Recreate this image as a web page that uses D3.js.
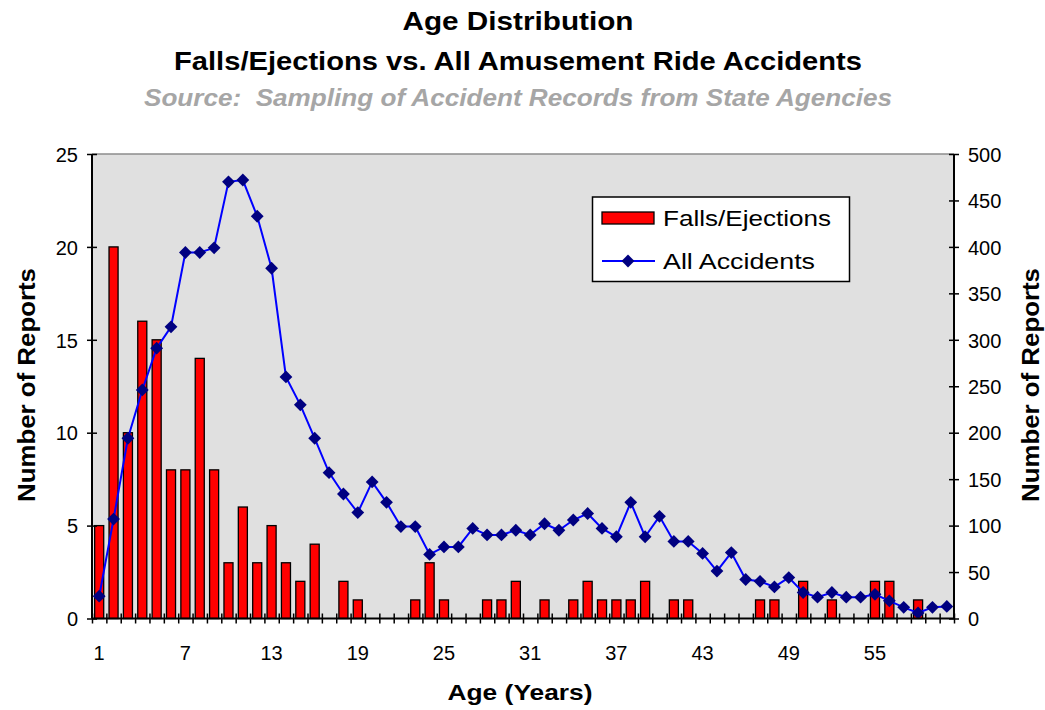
<!DOCTYPE html>
<html>
<head>
<meta charset="utf-8">
<title>Age Distribution</title>
<script src="https://d3js.org/d3.v7.min.js"></script>
<style>
  body { margin: 0; background: #fff; }
  svg text { font-family: "Liberation Sans", Arial, sans-serif; fill: #000; white-space: pre; }
</style>
</head>
<body>
<svg id="chart" width="1045" height="710"></svg>
<script>
// ages 1..60
const ages = d3.range(1, 61);
const falls = [5,20,10,16,15,8,8,14,8,3, 6,3,5,3,2,4,0,2,1,0,
               0,0,1,3,1,0,0,1,1,2, 0,1,0,1,2,1,1,1,2,0,
               1,1,0,0,0,0,1,1,0,2, 0,1,0,0,2,2,0,1,0,0];
const allAcc = [24,107,194,246,291,314,394,394,399,470, 472,433,377,260,230,194,157,134,114,147,
                125,99,99,69,77,77,97,90,90,95, 90,102,95,106,113,97,88,125,88,110,
                83,83,70,51,71,42,40,34,44,28, 23,28,23,23,26,19,12,6,12,13];
const ageLabels = [1,7,13,19,25,31,37,43,49,55];
const leftTicks = [0,5,10,15,20,25];
const rightTicks = d3.range(0, 501, 50);

const svg = d3.select("#chart");
const L = 92, R = 954, T = 154, B = 618.5;

const x = d3.scaleBand(ages, [L, R]).paddingInner(0.37).paddingOuter(0.185);
const xEdge = d3.scaleLinear([0, ages.length], [L, R]);
const yL = d3.scaleLinear([0, 25], [B, T]);
const yR = d3.scaleLinear([0, 500], [B, T]);

// titles
function txt(s, px, py, size, opts = {}) {
  const t = svg.append("text").attr("x", px).attr("y", py)
    .attr("font-size", size).attr("text-anchor", opts.anchor || "middle")
    .attr("font-weight", opts.bold ? "bold" : "normal")
    .attr("font-style", opts.italic ? "italic" : "normal")
    .style("fill", opts.color || "#000")
    .text(s);
  if (opts.len) t.attr("textLength", opts.len).attr("lengthAdjust", "spacingAndGlyphs");
  if (opts.rot) t.attr("transform", `rotate(${opts.rot},${px},${py})`);
  return t;
}
txt("Age Distribution", 518, 30, 26, {bold: true, len: 231});
txt("Falls/Ejections vs. All Amusement Ride Accidents", 518, 70, 26, {bold: true, len: 688});
txt("Source:  Sampling of Accident Records from State Agencies", 518, 106, 24, {bold: true, italic: true, color: "#a6a6a6", len: 748});

// plot area
svg.append("rect").attr("x", L).attr("y", T).attr("width", R - L).attr("height", B - T)
  .attr("fill", "#e0e0e0");
svg.append("line").attr("x1", L).attr("x2", R).attr("y1", T).attr("y2", T)
  .attr("stroke", "#8c8c8c").attr("stroke-width", 1.5);

// bars
svg.append("g").selectAll("rect").data(ages).join("rect")
  .attr("x", (d) => x(d))
  .attr("y", (d, i) => yL(falls[i]))
  .attr("width", x.bandwidth())
  .attr("height", (d, i) => B - yL(falls[i]))
  .attr("fill", "#ff0000").attr("stroke", "#000").attr("stroke-width", 1.3);

// line
const cx = (d) => x(d) + x.bandwidth() / 2;
svg.append("path").datum(ages)
  .attr("fill", "none").attr("stroke", "#0000ff").attr("stroke-width", 2)
  .attr("d", d3.line().x(cx).y((d, i) => yR(allAcc[i])));
const diamond = d3.symbol(d3.symbolSquare, 82);
svg.append("g").selectAll("path").data(ages).join("path")
  .attr("d", diamond)
  .attr("transform", (d, i) => `translate(${cx(d)},${yR(allAcc[i])}) rotate(45)`)
  .attr("fill", "#000080");

// axes
const axL = svg.append("g").attr("transform", `translate(${L},0)`)
  .call(d3.axisLeft(yL).tickValues(leftTicks).tickSize(5).tickPadding(9));
const axR = svg.append("g").attr("transform", `translate(${R},0)`)
  .call(d3.axisRight(yR).tickValues(rightTicks).tickSize(5).tickPadding(9));
[axL, axR].forEach((g) => {
  g.select(".domain").attr("stroke", "#000").attr("stroke-width", 2).attr("d", `M0,${T}V${B}`);
  g.selectAll(".tick line").attr("x1", -5).attr("x2", 5).attr("stroke-width", 1.5);
  g.selectAll(".tick text").attr("font-size", 20).attr("font-family", "Liberation Sans, Arial, sans-serif")
    .attr("dy", "0.36em").style("fill", "#000");
});

const axB = svg.append("g").attr("transform", `translate(0,${B})`)
  .call(d3.axisBottom(xEdge).tickValues(d3.range(0, ages.length + 1)).tickSize(5).tickFormat(""));
axB.select(".domain").attr("stroke-width", 2).attr("d", `M${L},0H${R}`);
axB.selectAll(".tick line").attr("y1", -5).attr("y2", 5).attr("stroke-width", 1.5);

svg.append("g").selectAll("text").data(ageLabels).join("text")
  .attr("x", cx).attr("y", 660).attr("text-anchor", "middle")
  .attr("font-size", 20).text((d) => d);

// axis titles
txt("Age (Years)", 520, 700, 22, {bold: true, len: 145});
txt("Number of Reports", 35, 385, 23, {bold: true, rot: -90, len: 234});
txt("Number of Reports", 1039, 385, 23, {bold: true, rot: -90, len: 234});

// legend
const lg = svg.append("g");
lg.append("rect").attr("x", 592.5).attr("y", 197).attr("width", 257).attr("height", 84.5)
  .attr("fill", "#fff").attr("stroke", "#000").attr("stroke-width", 1.5);
lg.append("rect").attr("x", 602).attr("y", 212).attr("width", 52).attr("height", 12)
  .attr("fill", "#ff0000").attr("stroke", "#000").attr("stroke-width", 1.3);
lg.append("line").attr("x1", 602).attr("x2", 655).attr("y1", 261).attr("y2", 261)
  .attr("stroke", "#0000ff").attr("stroke-width", 2);
lg.append("path").attr("d", diamond).attr("transform", "translate(628,261) rotate(45)")
  .attr("fill", "#000080");
lg.append("text").attr("x", 663).attr("y", 226).attr("font-size", 22)
  .attr("textLength", 168).attr("lengthAdjust", "spacingAndGlyphs").text("Falls/Ejections");
lg.append("text").attr("x", 663).attr("y", 269).attr("font-size", 22)
  .attr("textLength", 152).attr("lengthAdjust", "spacingAndGlyphs").text("All Accidents");
</script>
</body>
</html>
